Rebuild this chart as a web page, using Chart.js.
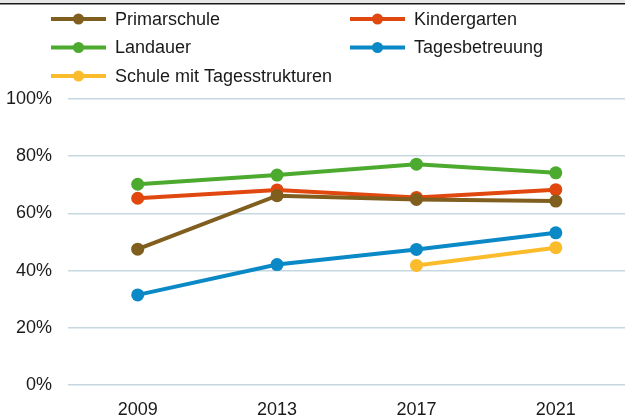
<!DOCTYPE html>
<html>
<head>
<meta charset="utf-8">
<script src="https://cdn.jsdelivr.net/npm/chart.js@4/dist/chart.umd.min.js"></script>
<style>
  html, body { margin: 0; padding: 0; background: #fff; overflow: hidden; }
  #wrap { width: 632px; height: 416px; position: relative; }
</style>
</head>
<body>
<div id="wrap"><canvas id="graphic"></canvas></div>
<script>
const years = ["2009", "2013", "2017", "2021"]
const primarschule = [47.5, 66.2, 64.9, 64.3]
const kindergarten = [65.3, 68.2, 65.6, 68.3]
const landauer = [70.2, 73.4, 77.2, 74.2]
const tagesbetreuung = [31.5, 42.1, 47.4, 53.2]
const schuleTagesstrukturen = [null, null, 41.8, 48.0]
const yTicks = [0, 20, 40, 60, 80, 100]

const fontFamily = "'Liberation Sans', Arial, sans-serif"

function line(label, data, color) {
    return {
        label: label,
        data: data,
        borderColor: color,
        backgroundColor: color,
        pointBackgroundColor: color,
        pointBorderColor: color,
        borderWidth: 4,
        pointRadius: 6.5,
        pointHoverRadius: 6.5,
        pointBorderWidth: 0,
        spanGaps: false,
        tension: 0,
    }
}

// legend in two columns, drawn on the canvas
const legendPlugin = {
    id: "twoColLegend",
    afterDraw(chart) {
        const ctx = chart.ctx
        const cols = [51, 350]
        const rows = [19, 47.5, 76]
        ctx.save()
        // frame at the top
        ctx.fillStyle = "#e6e6e6"
        ctx.fillRect(0, 0, chart.width, 3)
        ctx.fillStyle = "#1a1a1a"
        ctx.fillRect(0, 3, chart.width, 1.5)
        chart.data.datasets.forEach(function (ds, i) {
            let x = cols[i % 2]
            let y = rows[Math.floor(i / 2)]
            ctx.strokeStyle = ds.borderColor
            ctx.lineWidth = 4
            ctx.beginPath()
            ctx.moveTo(x, y)
            ctx.lineTo(x + 55, y)
            ctx.stroke()
            ctx.fillStyle = ds.borderColor
            ctx.beginPath()
            ctx.arc(x + 27.5, y, 5.5, 0, Math.PI * 2)
            ctx.fill()
            ctx.fillStyle = "#1a1a1a"
            ctx.font = "18px " + fontFamily
            ctx.textBaseline = "middle"
            ctx.textAlign = "left"
            ctx.fillText(ds.label, x + 64, y + 1)
        })
        ctx.restore()
    },
}

const chartID = document.getElementById("graphic").getContext("2d")
let graphic = new Chart(chartID, {
    type: "line",
    data: {
        labels: years,
        datasets: [
            line("Primarschule", primarschule, "#7f5e1e"),
            line("Kindergarten", kindergarten, "#e0480f"),
            line("Landauer", landauer, "#4caa2e"),
            line("Tagesbetreuung", tagesbetreuung, "#0a89c6"),
            line("Schule mit Tagesstrukturen", schuleTagesstrukturen, "#fbbc2c"),
        ],
    },
    options: {
        responsive: true,
        maintainAspectRatio: false,
        animation: false,
        layout: {
            padding: { top: 99, left: 0, right: 0, bottom: 0 },
        },
        plugins: {
            legend: { display: false },
            tooltip: { enabled: false },
        },
        scales: {
            x: {
                offset: true,
                grid: { display: false },
                border: { display: false },
                ticks: {
                    color: "#1a1a1a",
                    padding: 8,
                    font: { family: fontFamily, size: 18, lineHeight: 1 },
                },
                afterFit(s) {
                    s.height = 31
                    s.paddingLeft = 0
                    s.paddingRight = 0
                },
            },
            y: {
                min: 0,
                max: 100,
                afterBuildTicks(s) { s.ticks = yTicks.map(v => ({ value: v })) },
                grid: { color: "#c6d7e0", lineWidth: 1.5, drawTicks: false },
                border: { display: false },
                ticks: {
                    color: "#1a1a1a",
                    padding: 16,
                    font: { family: fontFamily, size: 18 },
                    callback: v => v + "%",
                },
                afterFit(s) { s.width = 68 },
            },
        },
    },
    plugins: [legendPlugin],
})
</script>
</body>
</html>
